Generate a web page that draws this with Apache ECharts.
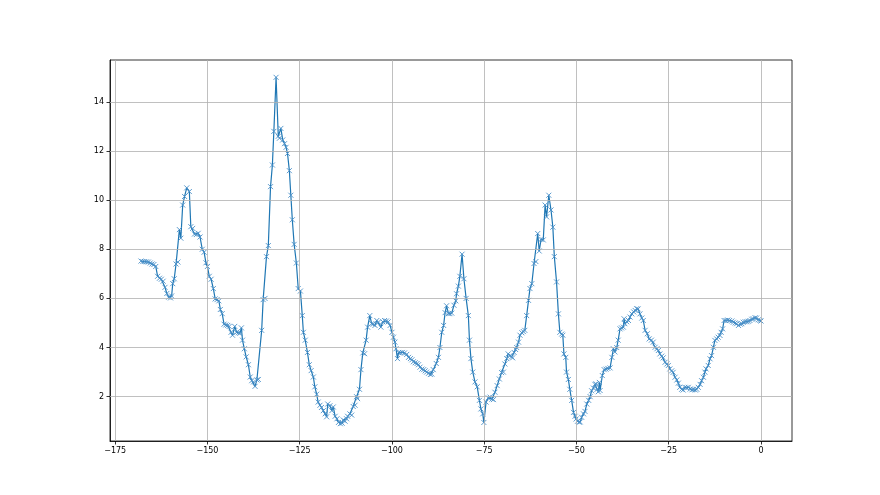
<!DOCTYPE html>
<html>
<head>
<meta charset="utf-8">
<script src="https://cdn.jsdelivr.net/npm/echarts@6/dist/echarts.min.js"></script>
<style>html,body{margin:0;padding:0;background:#fff}#c{width:880px;height:495px}</style>
</head>
<body>
<div id="c"></div>
<script>
const xValues = [
-168.0,-167.5,-167.0,-166.5,-166.0,-165.5,-165.0,-164.5,-164.0,-163.5,-163.0,-162.5,-162.0,-161.5,-161.0,-160.5,-160.0,-159.7,-159.4,-159.0,
-158.5,-158.0,-157.6,-157.2,-156.7,-156.2,-155.6,-154.9,-154.5,-154.0,-153.5,-153.0,-152.5,-152.0,-151.4,-150.9,-150.4,-150.0,-149.5,-149.0,
-148.4,-147.9,-147.4,-146.9,-146.5,-146.0,-145.5,-145.0,-144.5,-144.1,-143.6,-143.2,-142.6,-142.1,-141.6,-141.2,-140.8,-140.5,-140.0,-139.5,
-138.9,-138.4,-138.0,-137.5,-137.1,-136.6,-136.2,-135.3,-134.9,-134.4,-134.0,-133.5,-132.9,-132.4,-132.0,-131.4,-130.8,-130.5,-130.1,-129.6,
-129.1,-128.7,-128.3,-127.8,-127.4,-127.0,-126.5,-125.9,-125.4,-124.8,-124.3,-124.0,-123.5,-122.9,-122.4,-121.9,-121.3,-120.9,-120.4,-120.0,
-119.5,-119.1,-118.6,-118.1,-117.7,-117.4,-116.8,-116.3,-115.9,-115.4,-114.9,-114.5,-114.0,-113.5,-113.2,-112.7,-112.3,-112.0,-111.4,-110.9,
-110.5,-110.0,-109.6,-109.3,-108.8,-108.4,-107.9,-107.4,-107.0,-106.6,-106.0,-105.5,-105.1,-104.6,-104.1,-103.7,-103.0,-102.5,-102.0,-101.5,
-101.0,-100.5,-100.0,-99.6,-99.2,-98.9,-98.5,-98.2,-97.7,-97.2,-96.6,-96.0,-95.5,-95.0,-94.6,-94.2,-93.7,-93.2,-92.8,-92.4,
-91.9,-91.4,-91.0,-90.6,-90.1,-89.6,-89.2,-88.8,-88.0,-87.4,-87.0,-86.5,-86.0,-85.6,-85.2,-84.7,-84.3,-83.8,-83.2,-82.7,
-82.5,-82.0,-81.6,-81.0,-80.5,-79.9,-79.3,-79.0,-78.6,-78.1,-77.5,-76.9,-76.3,-75.9,-75.4,-75.1,-74.5,-73.9,-73.4,-72.9,
-72.5,-72.1,-71.5,-70.9,-70.3,-69.8,-69.4,-68.9,-68.5,-68.0,-67.6,-67.3,-66.9,-66.5,-66.2,-65.7,-65.3,-64.8,-64.4,-64.0,
-63.5,-63.0,-62.6,-62.1,-61.5,-61.0,-60.5,-60.1,-59.6,-59.0,-58.5,-58.1,-57.5,-56.9,-56.4,-56.0,-55.4,-54.9,-54.5,-54.0,
-53.7,-53.4,-52.9,-52.7,-52.2,-51.8,-51.3,-50.8,-50.4,-50.1,-49.7,-49.3,-49.0,-48.6,-48.1,-47.7,-47.2,-46.7,-46.3,-45.9,
-45.4,-45.0,-44.7,-44.4,-44.1,-43.8,-43.6,-43.0,-42.5,-42.0,-41.5,-40.9,-40.4,-40.0,-39.6,-39.1,-38.7,-38.2,-37.8,-37.3,
-37.1,-36.9,-36.4,-35.9,-35.5,-35.0,-34.5,-34.1,-33.7,-33.3,-32.8,-32.3,-31.9,-31.4,-30.8,-30.3,-29.7,-29.2,-28.7,-28.2,
-27.8,-27.4,-26.9,-26.5,-26.0,-25.5,-25.1,-24.7,-24.2,-23.8,-23.3,-22.8,-22.4,-22.0,-21.5,-21.1,-20.6,-20.1,-19.7,-19.2,
-18.7,-18.3,-17.8,-17.4,-17.0,-16.5,-16.1,-15.6,-15.2,-14.9,-14.3,-13.8,-13.4,-12.9,-12.5,-12.0,-11.6,-11.1,-10.8,-10.4,
-10.0,-9.5,-9.0,-8.5,-7.9,-7.5,-7.0,-6.6,-6.1,-5.6,-5.2,-4.8,-4.3,-3.8,-3.4,-3.0,-2.5,-2.1,-1.6,-1.2,
-0.7,-0.3,0.0
];
const yValues = [
7.52,7.50,7.50,7.49,7.48,7.44,7.40,7.38,7.30,6.90,6.82,6.78,6.70,6.45,6.20,6.05,6.02,6.10,6.60,6.80,
7.40,7.48,8.80,8.45,9.80,10.15,10.50,10.35,8.92,8.85,8.62,8.60,8.65,8.50,8.00,7.88,7.45,7.30,6.90,6.78,
6.40,5.98,5.95,5.90,5.55,5.38,4.95,4.92,4.90,4.86,4.62,4.50,4.86,4.62,4.60,4.58,4.80,4.30,3.95,3.62,
3.30,2.80,2.65,2.60,2.42,2.68,2.70,4.70,5.95,6.00,7.70,8.15,10.55,11.43,12.80,15.00,12.60,12.52,12.92,12.45,
12.30,12.15,11.90,11.20,10.20,9.20,8.20,7.44,6.40,6.30,5.30,4.62,4.30,3.80,3.30,3.06,2.80,2.40,2.10,1.78,
1.65,1.56,1.43,1.30,1.18,1.70,1.63,1.43,1.58,1.20,1.10,0.95,0.90,0.92,1.05,1.00,1.10,1.20,1.30,1.25,
1.60,1.65,2.00,1.92,2.30,3.10,3.78,3.75,4.30,4.83,5.30,4.97,4.95,4.90,5.10,5.03,4.83,5.05,5.10,5.08,
5.05,4.90,4.62,4.42,4.22,3.95,3.55,3.80,3.78,3.80,3.78,3.72,3.60,3.55,3.50,3.42,3.38,3.35,3.30,3.20,
3.12,3.10,3.05,3.00,2.95,2.90,2.92,3.10,3.35,3.60,4.00,4.62,4.90,5.42,5.70,5.38,5.38,5.40,5.72,5.90,
6.19,6.50,6.90,7.80,6.80,6.00,5.30,4.30,3.55,3.00,2.60,2.40,1.85,1.50,1.30,0.95,1.78,1.95,1.98,1.90,
1.88,2.18,2.45,2.72,2.98,3.00,3.33,3.55,3.74,3.67,3.62,3.58,3.80,3.92,4.00,4.22,4.50,4.60,4.65,4.70,
5.30,5.92,6.40,6.60,7.42,7.50,8.64,7.93,8.40,8.38,9.80,9.32,10.20,9.60,8.90,7.70,6.67,5.37,4.62,4.55,
4.50,3.74,3.60,3.00,2.70,2.30,1.85,1.36,1.20,1.09,1.00,0.96,0.97,1.16,1.30,1.40,1.70,1.85,2.00,2.24,
2.35,2.50,2.52,2.30,2.20,2.58,2.25,2.86,3.10,3.12,3.15,3.17,3.60,3.95,3.82,4.00,4.30,4.76,4.80,4.83,
5.17,4.97,5.05,5.10,5.24,5.37,5.45,5.51,5.58,5.57,5.37,5.20,5.10,4.70,4.56,4.35,4.30,4.22,4.01,3.95,
3.88,3.74,3.65,3.58,3.40,3.33,3.27,3.13,3.05,2.99,2.79,2.68,2.55,2.38,2.30,2.27,2.38,2.36,2.38,2.31,
2.28,2.30,2.27,2.30,2.38,2.50,2.65,2.79,3.00,3.13,3.27,3.54,3.67,4.01,4.29,4.35,4.42,4.49,4.62,4.76,
5.10,5.10,5.12,5.10,5.08,5.03,5.00,4.97,4.90,4.95,4.97,5.03,5.05,5.05,5.07,5.10,5.15,5.17,5.21,5.20,
5.13,5.10,5.08
];
const xTicks = [-175, -150, -125, -100, -75, -50, -25, 0];
const yTicks = [2, 4, 6, 8, 10, 12, 14];

const data = xValues.map((x, i) => [x, yValues[i]]);
const fmt = v => String(v).replace('-', '\u2212');
const labelFont = { fontFamily: 'DejaVu Sans', fontSize: 8, color: '#000' };

const chart = echarts.init(document.getElementById('c'), null, { renderer: 'canvas' });
chart.setOption({
  animation: false,
  backgroundColor: '#fff',
  grid: { left: 110, right: 88, top: 60, bottom: 54, show: true, borderColor: '#000', borderWidth: 0.8, backgroundColor: 'transparent' },
  xAxis: {
    type: 'value', min: -176.4, max: 8.4,
    axisLine: { show: true, onZero: false, lineStyle: { color: '#000', width: 0.8 } },
    axisTick: { show: true, length: 3.5, customValues: xTicks, lineStyle: { color: '#000', width: 0.8 } },
    axisLabel: { margin: 6, customValues: xTicks, formatter: fmt, ...labelFont },
    splitLine: { show: false }
  },
  yAxis: {
    type: 'value', min: 0.195, max: 15.705,
    axisLine: { show: true, onZero: false, lineStyle: { color: '#000', width: 0.8 } },
    axisTick: { show: true, length: 3.5, customValues: yTicks, lineStyle: { color: '#000', width: 0.8 } },
    axisLabel: { margin: 6, customValues: yTicks, formatter: fmt, ...labelFont },
    splitLine: { show: false }
  },
  series: [
    {
      type: 'line', data: [], silent: true,
      markLine: {
        silent: true, symbol: 'none', label: { show: false },
        lineStyle: { color: '#b0b0b0', width: 0.8, type: 'solid' },
        data: xTicks.map(v => ({ xAxis: v })).concat(yTicks.map(v => ({ yAxis: v })))
      }
    },
    {
      type: 'line', data: data,
      lineStyle: { color: '#1f77b4', width: 1.2 },
      symbol: 'path://M0,0L10,10M10,0L0,10',
      symbolSize: 5,
      itemStyle: { color: 'rgba(0,0,0,0)', borderColor: '#4a90c8', borderWidth: 0.9 },
      z: 3
    }
  ]
});
</script>
</body>
</html>
